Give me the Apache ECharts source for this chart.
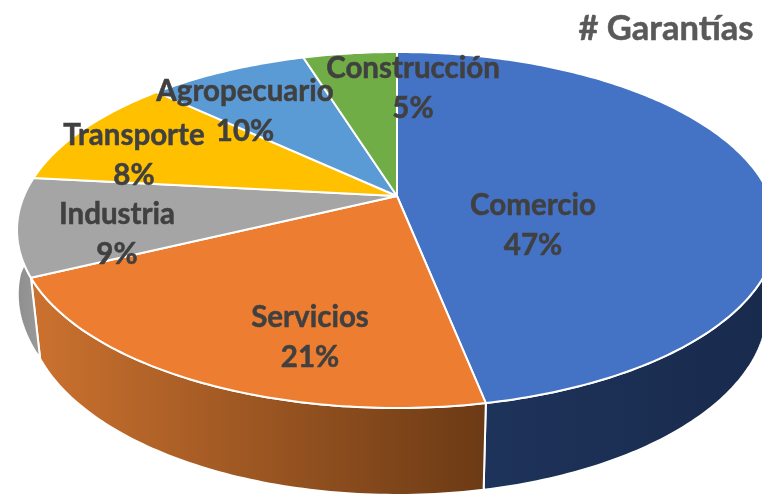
<!DOCTYPE html>
<html>
<head>
<meta charset="utf-8">
<style>html,body{margin:0;padding:0;background:#fff}#c{width:762px;height:495px}</style>
<script src="https://cdn.jsdelivr.net/npm/echarts@6/dist/echarts.min.js"></script>
</head>
<body>
<div id="c"></div>
<script>
const chartTitle = '# Garantías';
const categories = ['Comercio', 'Servicios', 'Industria', 'Transporte', 'Agropecuario', 'Construcción'];
const shares = [46.9, 20.9, 8.9, 10.3, 8.2, 4.8];
// Percentages exactly as the data labels print them
const labelPercents = [47, 21, 9, 8, 10, 5];
const topColors = ['#4472C4', '#ED7D31', '#A5A5A5', '#FFC000', '#5B9BD5', '#70AD47'];
const wallLeftColors = ['#20365F', '#CC722F', '#8E8E8E', '#B38600', '#3F6F9C', '#4F7A32'];
const wallRightColors = ['#182A4C', '#6B3A15', '#9A9A9A', '#806000', '#2F5478', '#3A5A25'];
const labelCentres = [[533, 225], [310, 337], [117, 234], [134, 155], [245, 111], [413, 88]];

const CX = 397, CY = 196, RX = 373, RY = 171.5, K = 0.191;
const WALL_SCALE_X = 0.975, WALL_SCALE_Y = 1.047, WALL_SHIFT = 77;
const total = shares.reduce((a, b) => a + b, 0);

function wallScaleX(fraction) {
  const f = Math.min(1, Math.max(0, (fraction - 0.678) / 0.072));
  return WALL_SCALE_X + 0.035 * f;
}
function rimPoint(fraction, lower) {
  const t = fraction * 2 * Math.PI;
  const x = Math.sin(t), y = -Math.cos(t), d = 1 - K * y;
  const px = RX * x / d, py = RY * y / d;
  return lower
    ? [CX + px * wallScaleX(fraction), CY + py * WALL_SCALE_Y + WALL_SHIFT]
    : [CX + px, CY + py];
}
function arc(from, to, lower) {
  const n = Math.max(2, Math.ceil((to - from) * 400));
  const out = [];
  for (let i = 0; i <= n; i++) out.push(rimPoint(from + (to - from) * i / n, lower));
  return out;
}
function span(idx) {
  let before = 0;
  for (let i = 0; i < idx; i++) before += shares[i];
  return [before / total, (before + shares[idx]) / total];
}
const edge = { stroke: '#fff', lineWidth: 2, lineJoin: 'round' };

function wallItem(params, api) {
  const idx = params.dataIndex;
  const s = span(idx);
  const pts = arc(s[0], s[1], false).concat(arc(s[0], s[1], true).reverse());
  return {
    type: 'polygon',
    shape: { points: pts },
    style: Object.assign({
      fill: new echarts.graphic.LinearGradient(0, 0, 1, 0, [
        { offset: 0, color: wallLeftColors[idx] },
        { offset: 1, color: wallRightColors[idx] }
      ])
    }, edge)
  };
}
function faceItem(params, api) {
  const idx = params.dataIndex;
  const s = span(idx);
  const pts = [[CX, CY]].concat(arc(s[0], s[1], false));
  return { type: 'polygon', shape: { points: pts }, style: Object.assign({ fill: topColors[idx] }, edge) };
}
function labelItem(params, api) {
  const idx = params.dataIndex;
  return {
    type: 'text',
    x: labelCentres[idx][0],
    y: labelCentres[idx][1],
    style: {
      text: categories[idx] + '\n' + labelPercents[idx] + '%',
      fill: '#404040',
      stroke: '#404040',
      lineWidth: 0.5,
      font: 'bold 29.5px Lato',
      lineHeight: 40,
      align: 'center',
      verticalAlign: 'middle'
    }
  };
}
const seriesData = shares.map((v, i) => ({ name: categories[i], value: [v] }));
const chart = echarts.init(document.getElementById('c'), null, { renderer: 'canvas' });
const base = { type: 'custom', coordinateSystem: 'none', data: seriesData, silent: true, animation: false, clip: false };
chart.setOption({
  backgroundColor: '#fff',
  animation: false,
  title: {
    text: chartTitle, right: 3, top: 6,
    textStyle: { color: '#595959', fontFamily: 'Lato', fontWeight: 'bold', fontSize: 34.5, textBorderColor: '#595959', textBorderWidth: 0.5 }
  },
  series: [
    Object.assign({}, base, { z: 1, renderItem: wallItem }),
    Object.assign({}, base, { z: 2, renderItem: faceItem }),
    Object.assign({}, base, { z: 3, renderItem: labelItem })
  ]
});
</script>
</body>
</html>
